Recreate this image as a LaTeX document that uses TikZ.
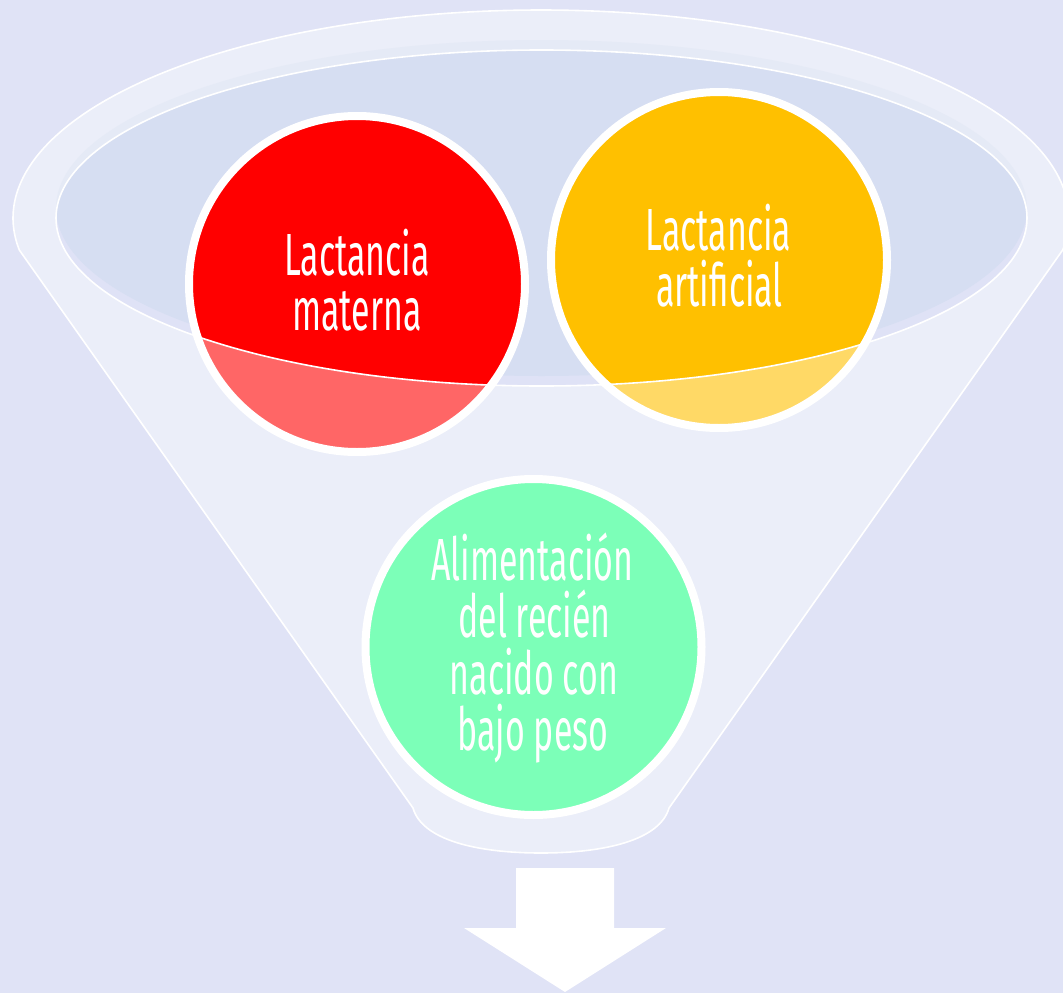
\documentclass[tikz,border=0pt]{standalone}
\usepackage{fontspec}
\newfontfamily\agency[FakeStretch=0.57]{Fira Sans}
\definecolor{bgc}{HTML}{E0E3F6}
\definecolor{funnelc}{HTML}{EBEEF9}
\definecolor{innerc}{HTML}{D6DEF2}
\definecolor{bandlow}{HTML}{DFE2F6}
\definecolor{bandtop}{HTML}{E5EAF6}
\definecolor{redc}{HTML}{FF0000}
\definecolor{redl}{HTML}{FF6666}
\definecolor{yelc}{HTML}{FFC000}
\definecolor{yell}{HTML}{FFD966}
\definecolor{grnc}{HTML}{7CFFB8}
\tikzset{
  bubble/.style={circle, minimum size=336pt, inner sep=0pt, outer sep=0pt},
  ring/.style={draw=white, line width=8pt},
  rim/.style={draw=white, line width=1.6pt},
  lbl/.style={text=white, font=\agency\fontsize{59.5}{56}\selectfont, inner sep=0pt, anchor=base},
}
\begin{document}
\begin{tikzpicture}[x=1pt,y=-1pt]
\useasboundingbox (0,0) rectangle (1063,993);
\fill[bgc] (0,0) rectangle (1063,993);
% funnel body
\path[fill=funnelc, rim, line join=round]
  plot[smooth, samples=120, domain=171.15:368.85] ({541+528*cos(\x)},{218+208*sin(\x)})
  -- (669,808) .. controls (660,840) and (605,853) .. (541,853)
  .. controls (477,853) and (422,840) .. (413,808) -- cycle;
% inner opening
\fill[bandtop] (541.5,208) ellipse[x radius=485.5, y radius=168];
\fill[bandlow] (541.5,218) ellipse[x radius=485.5, y radius=168];
\begin{scope}
  \clip (541.5,218) ellipse[x radius=485.5, y radius=168];
  \fill[innerc] (541.5,208) ellipse[x radius=485.5, y radius=168];
\end{scope}
% circles
\node[bubble, fill=redc] (lm) at (357,284) {};
\node[bubble, fill=yelc] (la) at (719,260) {};
\node[bubble, fill=grnc] (rn) at (533.5,647) {};
\begin{scope}
  \clip (lm.center) circle[radius=168];
  \fill[redl, even odd rule] (0,0) rectangle (1063,993) (541.5,218) ellipse[x radius=485.5, y radius=168];
\end{scope}
\begin{scope}
  \clip (la.center) circle[radius=168];
  \fill[yell, even odd rule] (0,0) rectangle (1063,993) (541.5,218) ellipse[x radius=485.5, y radius=168];
\end{scope}
\draw[rim] (541.5,218) ellipse[x radius=485.5, y radius=168];
\draw[ring] (lm.center) circle[radius=168];
\draw[ring] (la.center) circle[radius=168];
\draw[ring] (rn.center) circle[radius=168];
% texts
\node[lbl] (lm1) at (357,275) {Lactancia};
\node[lbl] (lm2) at (357,330) {materna};
\node[lbl] (la1) at (718.5,250) {Lactancia};
\node[lbl] (la2) at (719.5,306) {artificial};
\node[lbl] (rn1) at (532.5,580) {Alimentación};
\node[lbl] (rn2) at (534.5,637) {del recién};
\node[lbl] (rn3) at (534,694) {nacido con};
\node[lbl] (rn4) at (533,750) {bajo peso};
% output arrow
\fill[white] (516,868) -- (614,868) -- (614,928) -- (666,928) -- (565,992)
  -- (464,928) -- (516,928) -- cycle;
\end{tikzpicture}
\end{document}
